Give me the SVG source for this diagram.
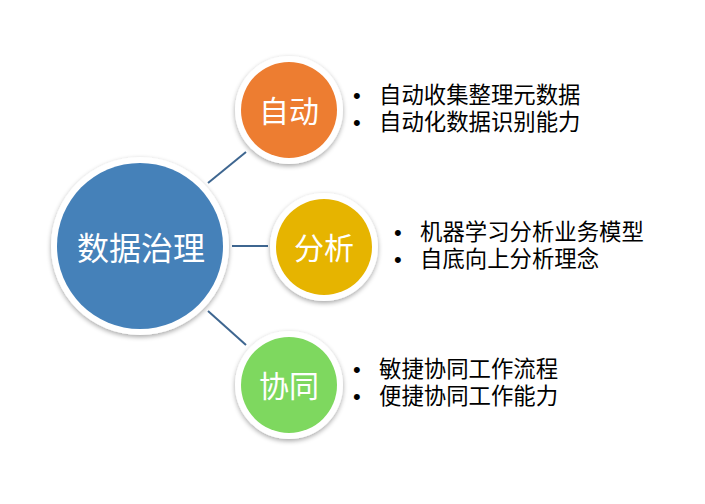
<svg xmlns="http://www.w3.org/2000/svg" width="705" height="504" viewBox="0 0 705 504">
<defs>
<filter id="sh" x="-20%" y="-20%" width="140%" height="140%">
<feGaussianBlur in="SourceAlpha" stdDeviation="2.5"/>
<feOffset dx="0" dy="2" result="b"/>
<feComponentTransfer><feFuncA type="linear" slope="0.35"/></feComponentTransfer>
<feMerge><feMergeNode/><feMergeNode in="SourceGraphic"/></feMerge>
</filter>
<style>
.ring{fill:#ffffff;filter:url(#sh);}
.lbl{font-family:"Noto Sans CJK SC","Noto Sans",sans-serif;fill:#ffffff;text-anchor:middle;dominant-baseline:central;}
.item{font-family:"Noto Sans CJK SC","Noto Sans",sans-serif;font-size:22.4px;fill:#000000;}
.bul{font-family:"Liberation Sans",Arial,sans-serif;font-size:22px;fill:#000000;}
.conn{stroke:#3E6690;stroke-width:2;fill:none;}
</style>
</defs>
<rect width="705" height="504" fill="#ffffff"/>
<g id="connectors">
<line class="conn" x1="208" y1="183" x2="246" y2="152"/>
<line class="conn" x1="232" y1="246" x2="268" y2="246"/>
<line class="conn" x1="208" y1="311" x2="246" y2="345"/>
</g>
<g id="node-main">
<circle class="ring" cx="140" cy="246" r="89"/>
<circle cx="140" cy="246" r="83" fill="#4581B9"/>
<text class="lbl" x="141" y="246" font-size="32">数据治理</text>
</g>
<g id="node-auto">
<circle class="ring" cx="289" cy="110" r="54"/>
<circle cx="289" cy="110" r="48" fill="#ED7D31"/>
<text class="lbl" x="289" y="109" font-size="30">自动</text>
</g>
<g id="node-analysis">
<circle class="ring" cx="324" cy="247" r="54"/>
<circle cx="324" cy="247" r="48" fill="#E6B400"/>
<text class="lbl" x="324" y="246" font-size="30">分析</text>
</g>
<g id="node-collab">
<circle class="ring" cx="289" cy="385" r="54"/>
<circle cx="289" cy="385" r="48" fill="#7ED85F"/>
<text class="lbl" x="289" y="384" font-size="30">协同</text>
</g>
<g id="list-auto">
<text class="bul" x="353" y="103">•</text><text class="bul" x="353" y="130">•</text>
<text class="item"><tspan x="379" y="103">自动收集整理元数据</tspan><tspan x="379" y="130">自动化数据识别能力</tspan></text>
</g>
<g id="list-analysis">
<text class="bul" x="394" y="240">•</text><text class="bul" x="394" y="267">•</text>
<text class="item"><tspan x="420" y="240">机器学习分析业务模型</tspan><tspan x="420" y="267">自底向上分析理念</tspan></text>
</g>
<g id="list-collab">
<text class="bul" x="353" y="377">•</text><text class="bul" x="353" y="404">•</text>
<text class="item"><tspan x="379" y="377">敏捷协同工作流程</tspan><tspan x="379" y="404">便捷协同工作能力</tspan></text>
</g>
</svg>
